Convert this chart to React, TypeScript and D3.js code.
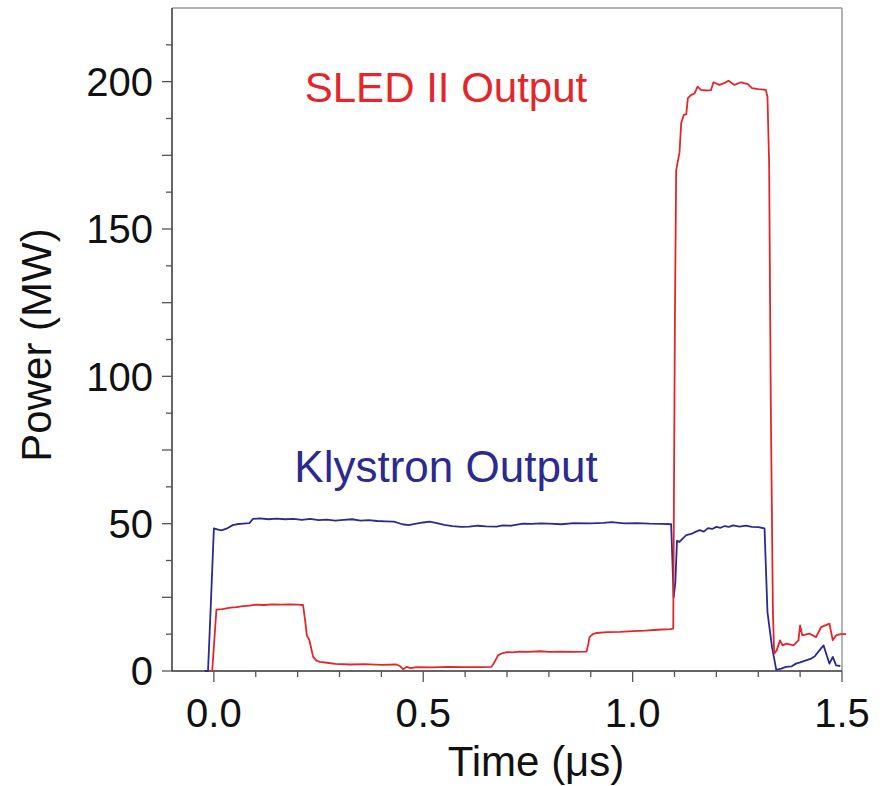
import React from "react";
import * as d3 from "d3";

const klyT = [-0.022, -0.014, -0.008, 0.0, 0.01, 0.018, 0.03, 0.045, 0.054, 0.07, 0.085, 0.093, 0.11, 0.13, 0.15, 0.17, 0.19, 0.21, 0.23, 0.25, 0.27, 0.29, 0.31, 0.33, 0.35, 0.37, 0.39, 0.41, 0.43, 0.45, 0.465, 0.48, 0.5, 0.515, 0.53, 0.55, 0.57, 0.59, 0.61, 0.63, 0.65, 0.675, 0.69, 0.71, 0.738, 0.76, 0.78, 0.8, 0.83, 0.86, 0.9, 0.93, 0.95, 0.98, 1.01, 1.04, 1.07, 1.092, 1.098, 1.102, 1.106, 1.112, 1.12, 1.128, 1.14, 1.15, 1.16, 1.17, 1.18, 1.19, 1.2, 1.21, 1.22, 1.23, 1.24, 1.255, 1.27, 1.285, 1.3, 1.315, 1.322, 1.333, 1.343, 1.355, 1.366, 1.38, 1.39, 1.4, 1.414, 1.425, 1.435, 1.446, 1.456, 1.463, 1.47, 1.478, 1.486, 1.496];
const klyP = [0, 0, 20, 48.4, 48.0, 47.7, 48.3, 49.5, 49.8, 50.0, 50.2, 51.6, 51.8, 51.5, 51.7, 51.5, 51.6, 51.3, 51.6, 51.2, 51.4, 51.0, 51.3, 51.5, 51.0, 51.2, 50.9, 50.8, 50.7, 49.8, 49.5, 49.9, 50.4, 50.7, 50.3, 49.6, 49.2, 48.9, 49.0, 49.3, 49.1, 49.0, 49.4, 49.3, 50.0, 49.9, 50.1, 50.0, 49.8, 50.2, 50.1, 50.3, 50.5, 50.1, 50.2, 50.0, 49.9, 49.8, 25, 30, 44.2, 43.8, 45.0, 46.1, 46.5, 47.2, 47.8, 47.3, 48.5, 48.2, 48.9, 48.6, 49.2, 48.9, 49.4, 49.0, 49.3, 48.9, 48.8, 48.4, 20, 8, 0.4, 0.8, 1.4, 1.6, 2.5, 2.9, 3.6, 4.1, 5.0, 7.0, 8.7, 5.5, 2.5, 4.8, 1.9, 1.7];

const sledT = [-0.008, -0.004, 0.006, 0.02, 0.04, 0.054, 0.07, 0.085, 0.1, 0.12, 0.14, 0.16, 0.18, 0.2, 0.213, 0.218, 0.222, 0.228, 0.232, 0.237, 0.245, 0.253, 0.27, 0.29, 0.325, 0.36, 0.4, 0.436, 0.445, 0.452, 0.46, 0.47, 0.484, 0.52, 0.56, 0.6, 0.64, 0.663, 0.672, 0.679, 0.69, 0.7, 0.714, 0.73, 0.75, 0.78, 0.8, 0.83, 0.86, 0.89, 0.894, 0.897, 0.905, 0.913, 0.94, 0.97, 1.0, 1.03, 1.06, 1.09, 1.097, 1.101, 1.104, 1.112, 1.116, 1.122, 1.128, 1.132, 1.14, 1.148, 1.155, 1.163, 1.175, 1.187, 1.193, 1.207, 1.22, 1.229, 1.243, 1.259, 1.275, 1.285, 1.3, 1.318, 1.322, 1.326, 1.33, 1.335, 1.338, 1.344, 1.352, 1.358, 1.368, 1.384, 1.396, 1.4, 1.405, 1.422, 1.438, 1.45, 1.47, 1.478, 1.486, 1.496, 1.51];
const sledP = [0, 0, 20.8, 21.0, 21.5, 21.7, 22.0, 22.2, 22.5, 22.4, 22.6, 22.5, 22.6, 22.5, 22.4, 17, 12.1, 10.5, 8, 4.8, 3.5, 3.1, 2.8, 2.4, 2.2, 2.3, 2.1, 2.2, 1.6, 0.6, 1.4, 1.0, 1.3, 1.2, 1.4, 1.3, 1.3, 1.4, 3.5, 5.4, 6.1, 6.4, 6.3, 6.6, 6.5, 6.7, 6.5, 6.6, 6.5, 6.6, 9, 11.5, 12.5, 12.9, 13.2, 13.3, 13.5, 13.7, 14.0, 14.2, 14.4, 120, 170, 176, 186, 188.7, 188.9, 194.4, 195.5, 196, 198.3, 197.2, 197, 197.1, 199.8, 198.9, 199.6, 200.3, 198.9, 199.8, 199.2, 197.8, 197.5, 197.2, 195, 172, 90, 20, 5.9, 7.0, 10.4, 8.7, 9.3, 8.7, 10.4, 15.5, 12.1, 12.7, 11.5, 14.9, 16.1, 10.4, 12.1, 12.5, 12.5];

const xTickMajor = [0.0, 0.5, 1.0, 1.5];
const xTickMinor = [0.1, 0.2, 0.3, 0.4, 0.6, 0.7, 0.8, 0.9, 1.1, 1.2, 1.3, 1.4];
const yTickLabels = [0, 50, 100, 150, 200];
const yTickMajor = [0, 25, 50, 75, 100, 125, 150, 175, 200];
const yTickMinor = [12.5, 37.5, 62.5, 87.5, 112.5, 137.5, 162.5, 187.5, 212.5];

const RED = "#e3262a";
const BLUE = "#2b2a8e";
const FONT = "Arimo, 'Liberation Sans', Arial, sans-serif";

export default function App() {
  const x = d3.scaleLinear().domain([-0.1, 1.5]).range([172, 842]);
  const y = d3.scaleLinear().domain([0, 225]).range([671, 8]);
  const line = d3
    .line<[number, number]>()
    .x((d) => x(d[0]))
    .y((d) => y(d[1]));
  const kly = klyT.map((t, i) => [t, klyP[i]] as [number, number]);
  const sled = sledT.map((t, i) => [t, sledP[i]] as [number, number]);

  return (
    <svg
      width={882}
      height={786}
      style={{ position: "absolute", left: 0, top: 0, background: "#fff" }}
      fontFamily={FONT}
    >
      <rect x={0} y={0} width={882} height={786} fill="#fff" />
      {/* frame */}
      <line x1={x(-0.1)} x2={x(1.5)} y1={y(225)} y2={y(225)} stroke="#9a9a9a" strokeWidth={1.5} />
      <line x1={x(1.5)} x2={x(1.5)} y1={y(225)} y2={y(0)} stroke="#9a9a9a" strokeWidth={1.5} />
      <line x1={x(-0.1)} x2={x(-0.1)} y1={y(225)} y2={y(0)} stroke="#333" strokeWidth={1.5} />
      <line x1={x(-0.1)} x2={x(1.5)} y1={y(0)} y2={y(0)} stroke="#333" strokeWidth={1.5} />
      {/* y ticks */}
      {yTickMajor.map((v) => (
        <line key={"ym" + v} x1={x(-0.1) - 10} x2={x(-0.1)} y1={y(v)} y2={y(v)} stroke="#555" strokeWidth={1.3} />
      ))}
      {yTickMinor.map((v) => (
        <line key={"yn" + v} x1={x(-0.1) - 6} x2={x(-0.1)} y1={y(v)} y2={y(v)} stroke="#555" strokeWidth={1.3} />
      ))}
      {yTickLabels.map((v) => (
        <text key={"yl" + v} x={153} y={y(v)} dy="0.36em" textAnchor="end" fontSize={40} fill="#111">
          {v}
        </text>
      ))}
      {/* x ticks */}
      {xTickMajor.map((v) => (
        <line key={"xm" + v} x1={x(v)} x2={x(v)} y1={y(0)} y2={y(0) + 11} stroke="#555" strokeWidth={1.3} />
      ))}
      {xTickMinor.map((v) => (
        <line key={"xn" + v} x1={x(v)} x2={x(v)} y1={y(0)} y2={y(0) + 6} stroke="#555" strokeWidth={1.3} />
      ))}
      {xTickMajor.map((v) => (
        <text key={"xl" + v} x={x(v)} y={727} textAnchor="middle" fontSize={40} fill="#111">
          {v.toFixed(1)}
        </text>
      ))}
      {/* axis titles */}
      <text x={536} y={776} textAnchor="middle" fontSize={42} fill="#111">
        Time (μs)
      </text>
      <text transform="translate(51,345) rotate(-90)" textAnchor="middle" fontSize={42} fill="#111">
        Power (MW)
      </text>
      {/* data */}
      <path d={line(kly) || ""} fill="none" stroke={BLUE} strokeWidth={1.8} strokeLinejoin="round" />
      <path d={line(sled) || ""} fill="none" stroke={RED} strokeWidth={1.8} strokeLinejoin="round" />
      {/* annotations */}
      <text x={446} y={102} textAnchor="middle" fontSize={42} fill={RED}>
        SLED II Output
      </text>
      <text x={446} y={482} textAnchor="middle" fontSize={44} fill={BLUE}>
        Klystron Output
      </text>
    </svg>
  );
}
